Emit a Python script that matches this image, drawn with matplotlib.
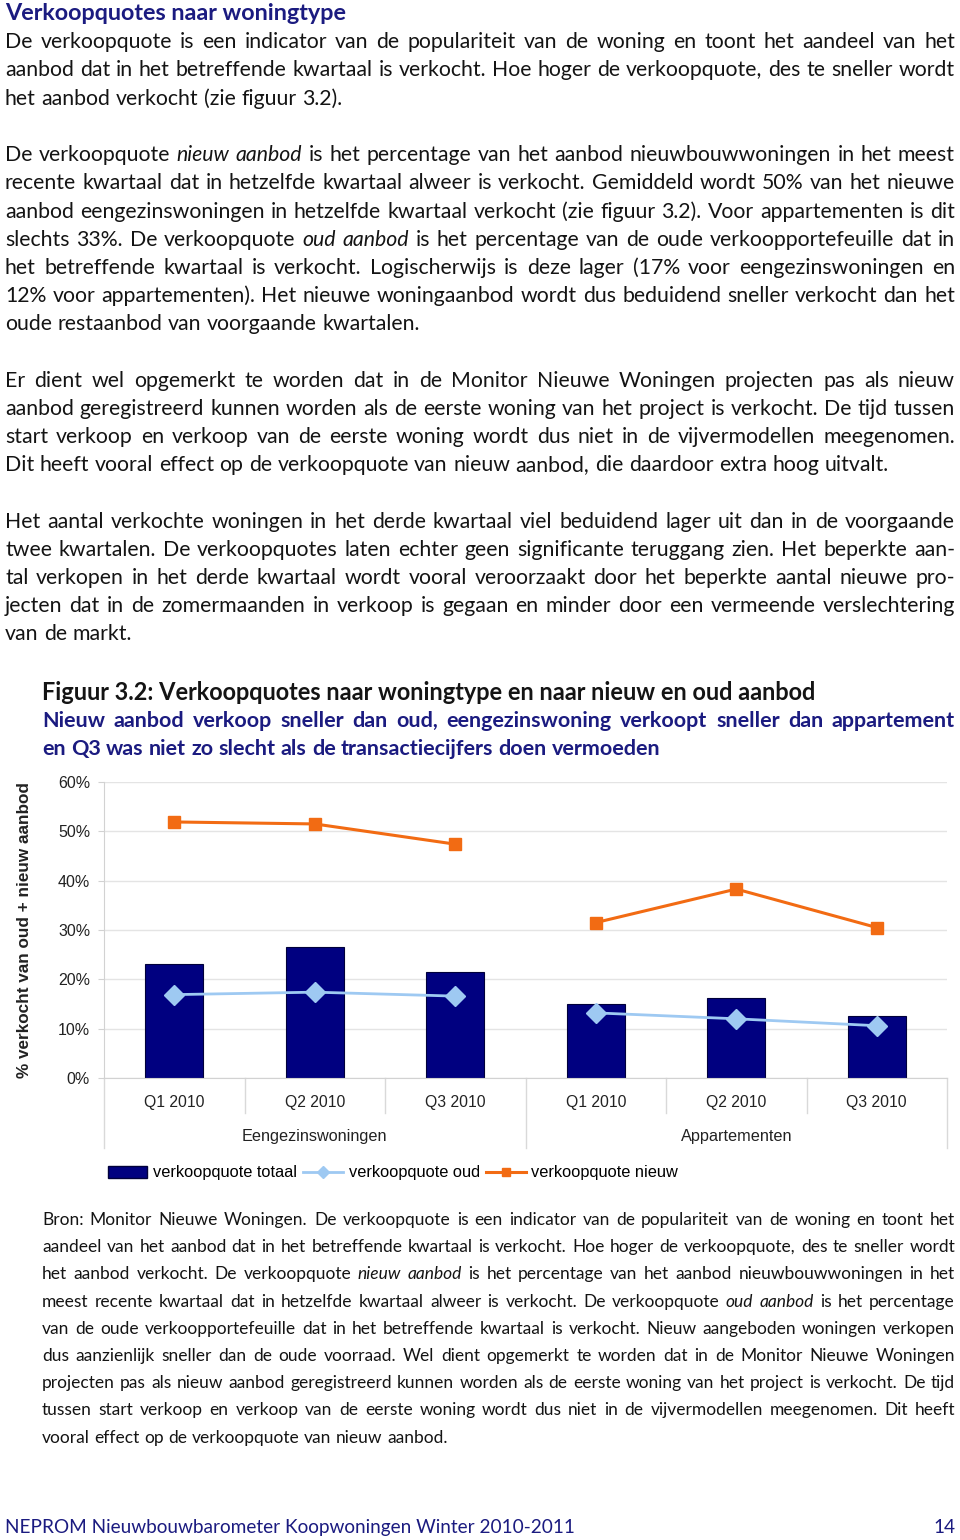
import numpy as np
import matplotlib
matplotlib.use('Agg')
import matplotlib.pyplot as plt
import matplotlib.transforms as mtransforms
from matplotlib.lines import Line2D
from matplotlib.patches import Patch

# data (in %)
kwartalen = ['Q1 2010', 'Q2 2010', 'Q3 2010']
groepen = ['Eengezinswoningen', 'Appartementen']
totaal = [23.1, 26.5, 21.5, 15.1, 16.2, 12.6]
oud = [16.9, 17.4, 16.6, 13.2, 12.0, 10.6]
nieuw = [51.9, 51.5, 47.4, 31.5, 38.3, 30.5]
reeksnamen = ['verkoopquote totaal', 'verkoopquote oud', 'verkoopquote nieuw']

kop = 'Verkoopquotes naar woningtype'
alineas = [
    ['De verkoopquote is een indicator van de populariteit van de woning en toont het aandeel van het',
     'aanbod dat in het betreffende kwartaal is verkocht. Hoe hoger de verkoopquote, des te sneller wordt',
     'het aanbod verkocht (zie figuur 3.2).'],
    ['De verkoopquote _nieuw aanbod_ is het percentage van het aanbod nieuwbouwwoningen in het meest',
     'recente kwartaal dat in hetzelfde kwartaal alweer is verkocht. Gemiddeld wordt 50% van het nieuwe',
     'aanbod eengezinswoningen in hetzelfde kwartaal verkocht (zie figuur 3.2). Voor appartementen is dit',
     'slechts 33%. De verkoopquote _oud aanbod_ is het percentage van de oude verkoopportefeuille dat in',
     'het betreffende kwartaal is verkocht. Logischerwijs is deze lager (17% voor eengezinswoningen en',
     '12% voor appartementen). Het nieuwe woningaanbod wordt dus beduidend sneller verkocht dan het',
     'oude restaanbod van voorgaande kwartalen.'],
    ['Er dient wel opgemerkt te worden dat in de Monitor Nieuwe Woningen projecten pas als nieuw',
     'aanbod geregistreerd kunnen worden als de eerste woning van het project is verkocht. De tijd tussen',
     'start verkoop en verkoop van de eerste woning wordt dus niet in de vijvermodellen meegenomen.',
     'Dit heeft vooral effect op de verkoopquote van nieuw aanbod, die daardoor extra hoog uitvalt.'],
    ['Het aantal verkochte woningen in het derde kwartaal viel beduidend lager uit dan in de voorgaande',
     'twee kwartalen. De verkoopquotes laten echter geen significante teruggang zien. Het beperkte aan-',
     'tal verkopen in het derde kwartaal wordt vooral veroorzaakt door het beperkte aantal nieuwe pro-',
     'jecten dat in de zomermaanden in verkoop is gegaan en minder door een vermeende verslechtering',
     'van de markt.'],
]
figtitel = 'Figuur 3.2: Verkoopquotes naar woningtype en naar nieuw en oud aanbod'
ondertitel = ['Nieuw aanbod verkoop sneller dan oud, eengezinswoning verkoopt sneller dan appartement',
              'en Q3 was niet zo slecht als de transactiecijfers doen vermoeden']
bron = [
    'Bron: Monitor Nieuwe Woningen. De verkoopquote is een indicator van de populariteit van de woning en toont het',
    'aandeel van het aanbod dat in het betreffende kwartaal is verkocht. Hoe hoger de verkoopquote, des te sneller wordt',
    'het aanbod verkocht. De verkoopquote _nieuw aanbod_ is het percentage van het aanbod nieuwbouwwoningen in het',
    'meest recente kwartaal dat in hetzelfde kwartaal alweer is verkocht. De verkoopquote _oud aanbod_ is het percentage',
    'van de oude verkoopportefeuille dat in het betreffende kwartaal is verkocht. Nieuw aangeboden woningen verkopen',
    'dus aanzienlijk sneller dan de oude voorraad. Wel dient opgemerkt te worden dat in de Monitor Nieuwe Woningen',
    'projecten pas als nieuw aanbod geregistreerd kunnen worden als de eerste woning van het project is verkocht. De tijd',
    'tussen start verkoop en verkoop van de eerste woning wordt dus niet in de vijvermodellen meegenomen. Dit heeft',
    'vooral effect op de verkoopquote van nieuw aanbod.',
]
voettekst = 'NEPROM Nieuwbouwbarometer Koopwoningen Winter 2010-2011'
paginanr = '14'

W, H = 960, 1540
fig = plt.figure(figsize=(W / 100, H / 100), dpi=100)
renderer = fig.canvas.get_renderer()

TEKST = 'Lato'
GRAF = 'Liberation Sans'
ZWART = '#141414'
NAVY = '#1b1b80'


def fx(x):
    return x / W


def fy(y):
    return 1 - y / H


def breedte(s, **kw):
    t = fig.text(0, 0, s, **kw)
    b = t.get_window_extent(renderer).width
    t.remove()
    return b


def passend(s, doel, **kw):
    # lettergrootte zodat de tekst de breedte uit het origineel krijgt
    return 10 * doel / breedte(s, size=10, **kw)


def woorden(regel):
    uit = []
    for i, deel in enumerate(regel.split('_')):
        stijl = 'italic' if i % 2 else 'normal'
        for w in deel.split():
            uit.append((w, stijl))
    return uit


def regel(x0, x1, y, tekst, uitvullen, **kw):
    ws = woorden(tekst)
    bs = [breedte(w, style=s, **kw) for w, s in ws]
    spatie = breedte('a a', **kw) - breedte('aa', **kw)
    gap = spatie
    if uitvullen and len(ws) > 1:
        gap = max((x1 - x0 - sum(bs)) / (len(ws) - 1), spatie * 0.6)
    x = x0
    for (w, s), b in zip(ws, bs):
        fig.text(fx(x), fy(y), w, style=s, ha='left', va='baseline', **kw)
        x += b + gap


def alinea(x0, x1, y0, stap, regels, **kw):
    for i, r in enumerate(regels):
        regel(x0, x1, y0 + i * stap, r, i < len(regels) - 1, **kw)


# kop en lopende tekst
kw = dict(family=TEKST, weight='bold', color=NAVY)
fig.text(fx(5), fy(20), kop, size=passend(kop, 343, **kw), ha='left', va='baseline', **kw)

romp = passend('het aanbod verkocht (zie figuur 3.2).', 338, family=TEKST)
k = 0
for a in alineas:
    alinea(5, 955, 48.3 + 28.2 * k, 28.2, a, family=TEKST, size=romp, color=ZWART)
    k += len(a) + 1

kw = dict(family=TEKST, weight='bold', color=ZWART)
fig.text(fx(42), fy(700), figtitel, size=passend(figtitel, 778, **kw), ha='left', va='baseline', **kw)
kw = dict(family=TEKST, weight='bold', color=NAVY)
alinea(42, 955, 727, 28.3, ondertitel, size=passend(ondertitel[-1], 619, **kw), **kw)

bronmaat = passend('vooral effect op de verkoopquote van nieuw aanbod.', 406, family=TEKST)
alinea(42, 955, 1225, 27.2, bron, family=TEKST, size=bronmaat, color=ZWART)

kw = dict(family=TEKST, color=NAVY)
vm = passend(voettekst, 570, **kw)
fig.text(fx(5), fy(1533), voettekst, size=vm, ha='left', va='baseline', **kw)
fig.text(fx(955), fy(1533), paginanr, size=vm, ha='right', va='baseline', **kw)

# grafiek
ax = fig.add_axes([fx(104), fy(1078), (947 - 104) / W, (1078 - 782) / H])
n = len(kwartalen)
x = np.arange(len(totaal))
BALK = '#000080'
BLAUW = '#9ec9f2'
ORANJE = '#f26b13'
ax.bar(x, totaal, width=0.415, color=BALK, edgecolor='#00003a', linewidth=0.8, zorder=2)
for g in range(len(groepen)):
    s = slice(g * n, (g + 1) * n)
    ax.plot(x[s], oud[s], color=BLAUW, lw=2, marker='D', ms=10, zorder=3)
    ax.plot(x[s], nieuw[s], color=ORANJE, lw=2.2, marker='s', ms=9, zorder=3)

ax.set_xlim(-0.5, len(totaal) - 0.5)
ax.set_ylim(0, 60)
ax.set_yticks(range(0, 61, 10))
ax.yaxis.set_major_formatter(lambda v, p: f'{v:.0f}%')
ax.grid(axis='y', color='#e4e4e4', lw=1)
ax.set_axisbelow(True)
for kant in ['top', 'right']:
    ax.spines[kant].set_visible(False)
for kant in ['left', 'bottom']:
    ax.spines[kant].set_color('#d2d2d2')
ax.tick_params(axis='y', length=4, color='#d2d2d2', labelsize=11.5, pad=6, labelcolor='#222222')
ax.set_xticks(x)
ax.set_xticklabels(kwartalen * len(groepen))
ax.tick_params(axis='x', length=0, labelsize=11.3, pad=12, labelcolor='#222222')
for lab in ax.get_xticklabels() + ax.get_yticklabels():
    lab.set_family(GRAF)

trans = mtransforms.blended_transform_factory(ax.transData, ax.transAxes)
hoogte = 296
for b in np.arange(-0.5, len(totaal)):
    lang = round(b + 0.5) % n == 0
    onder = -(70 if lang else 35) / hoogte
    ax.plot([b, b], [0, onder], transform=trans, clip_on=False, color='#d9d9d9', lw=1)
for g, naam in enumerate(groepen):
    ax.text(g * n + (n - 1) / 2, -58 / hoogte, naam, transform=trans, ha='center', va='center',
            family=GRAF, size=11.7, color='#222222')

fig.text(fx(25), fy(930), '% verkocht van oud + nieuw aanbod', rotation=90, ha='center', va='center',
         family=GRAF, weight='bold', size=12.3, color='#222222')

handles = [Patch(facecolor=BALK, edgecolor='#00003a'),
           Line2D([], [], color=BLAUW, lw=2, marker='D', ms=6),
           Line2D([], [], color=ORANJE, lw=2.2, marker='s', ms=6)]
fig.legend(handles, reeksnamen, loc='center', bbox_to_anchor=(fx(393), fy(1173)), ncol=3,
           frameon=False, handlelength=2.4, handletextpad=0.35, columnspacing=0.4,
           prop={'family': GRAF, 'size': 11.8})

fig.savefig('out.png', dpi=100)
